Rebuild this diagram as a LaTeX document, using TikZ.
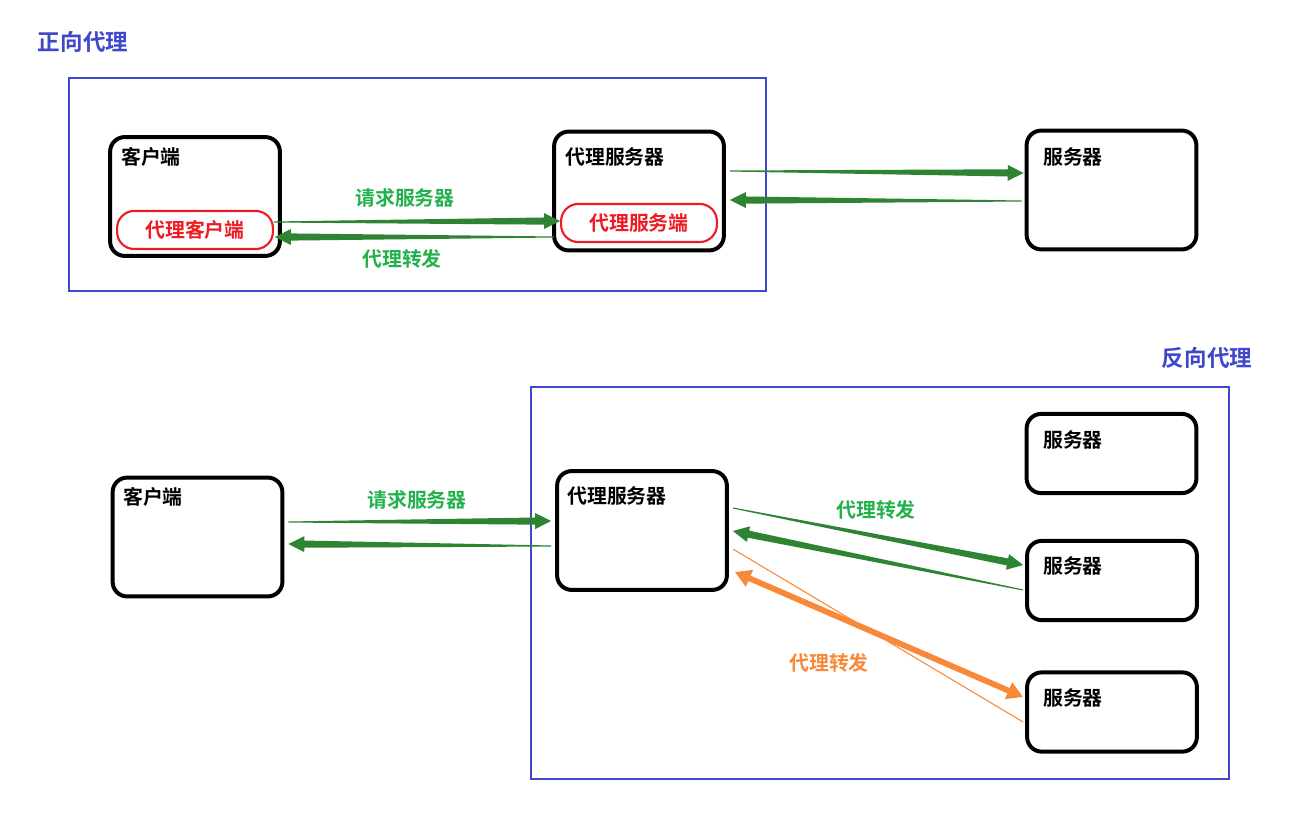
\documentclass[tikz,border=0pt]{standalone}
\usepackage{fontspec}
\usetikzlibrary{calc}
\usetikzlibrary{arrows.meta}
\newfontfamily\cjk{Noto Sans CJK SC}[BoldFont={Noto Sans CJK SC Bold}]
\definecolor{frameblue}{RGB}{63, 72, 204}
\definecolor{labelgreen}{RGB}{34, 177, 76}
\definecolor{arrowgreen}{RGB}{46, 132, 50}
\definecolor{proxyred}{RGB}{237, 28, 36}
\definecolor{fwdorange}{RGB}{247, 137, 56}
% tapered arrow: thin at the tail, thick at the head
\newcommand{\taperarrow}[3]{%
	\coordinate (tb) at ($(#3)!12pt!(#2)$);
	\fill[#1] ($(#2)!0.4pt!90:(#3)$) -- ($(tb)!2.7pt!90:(#3)$) -- ($(tb)!6pt!90:(#3)$)
		-- (#3) -- ($(tb)!6pt!-90:(#3)$) -- ($(tb)!2.7pt!-90:(#3)$) -- ($(#2)!0.4pt!-90:(#3)$) -- cycle;
}

\begin{document}
\begin{tikzpicture}[x=0.0265cm, y=-0.0265cm,
	box/.style={draw, line width=3pt, rounded corners=11pt, minimum width=4.5cm, minimum height=3.15cm},
	smallbox/.style={box, minimum height=2.1cm},
	inbox/.style={draw=proxyred, line width=1.6pt, rounded corners=13pt, minimum width=4.13cm, minimum height=1.01cm, text=proxyred, font=\cjk\bfseries\fontsize{15}{18}\selectfont},
	txt/.style={inner sep=0pt, font=\cjk\bfseries\fontsize{15}{18}\selectfont},
	title/.style={inner sep=0pt, text=frameblue, font=\cjk\bfseries\fontsize{17}{20}\selectfont},
	frame/.style={draw=frameblue, line width=2.2pt}]
	\useasboundingbox (0, 0) rectangle (1293, 814);

	% forward proxy
	\node[title] (fwdtitle) at (83, 42) {正向代理};
	\draw[frame] (69, 78) rectangle (766, 291);

	\node[box] (c1) at (195, 196.5) {};
	\node[txt] (c1t) at (151, 157) {客户端};
	\node[inbox] (c1in) at (195, 230) {代理客户端};

	\node[box] (p1) at (639, 191) {};
	\node[txt] (p1t) at (615, 157) {代理服务器};
	\node[inbox] (p1in) at (639, 223) {代理服务端};

	\node[box] (s1) at (1111.5, 190) {};
	\node[txt] (s1t) at (1073, 157) {服务器};

	\coordinate (a1s) at ($(c1in.east)+(0, -8)$);
	\coordinate (a1e) at ($(p1in.west)+(0, -2)$);
	\coordinate (a2s) at ($(p1.west)+(2, 46)$);
	\coordinate (a2e) at ($(c1in.east)+(1, 7)$);
	\coordinate (a3s) at ($(p1.east)+(4, -20)$);
	\coordinate (a3e) at ($(s1.west)+(-1, -17)$);
	\coordinate (a4s) at ($(s1.west)+(-3, 11)$);
	\coordinate (a4e) at ($(p1.east)+(4, 9)$);
	\taperarrow{arrowgreen}{a1s}{a1e}
	\taperarrow{arrowgreen}{a2s}{a2e}
	\taperarrow{arrowgreen}{a3s}{a3e}
	\taperarrow{arrowgreen}{a4s}{a4e}
	\node[txt, text=labelgreen] (req1) at (405, 198) {请求服务器};
	\node[txt, text=labelgreen] (fwd1) at (402, 259) {代理转发};

	% reverse proxy
	\node[title] (revtitle) at (1207, 358) {反向代理};
	\draw[frame] (531, 387) rectangle (1229, 779);

	\node[box] (c2) at (197.5, 537) {};
	\node[txt] (c2t) at (153, 497) {客户端};

	\node[box] (p2) at (642, 530.5) {};
	\node[txt] (p2t) at (617, 496) {代理服务器};

	\node[smallbox] (s2a) at (1111.5, 453.5) {};
	\node[txt] (s2at) at (1073, 440) {服务器};
	\node[smallbox] (s2b) at (1112, 580.5) {};
	\node[txt] (s2bt) at (1073, 566) {服务器};
	\node[smallbox] (s2c) at (1112, 712) {};
	\node[txt] (s2ct) at (1073, 698) {服务器};

	\coordinate (b1s) at ($(c2.east)+(4, -15)$);
	\coordinate (b1e) at ($(p2.west)+(-4, -9.5)$);
	\coordinate (b2s) at ($(p2.west)+(-4, 15.5)$);
	\coordinate (b2e) at ($(c2.east)+(4, 7)$);
	\coordinate (b3s) at ($(p2.east)+(4, -22.5)$);
	\coordinate (b3e) at ($(s2b.west)+(-2, -15.5)$);
	\coordinate (b4s) at ($(s2b.west)+(-2, 9.5)$);
	\coordinate (b4e) at ($(p2.east)+(4, 0.5)$);
	\taperarrow{arrowgreen}{b1s}{b1e}
	\taperarrow{arrowgreen}{b2s}{b2e}
	\taperarrow{arrowgreen}{b3s}{b3e}
	\taperarrow{arrowgreen}{b4s}{b4e}
	\node[txt, text=labelgreen] (req2) at (417, 500) {请求服务器};
	\node[txt, text=labelgreen] (fwd2) at (876, 510) {代理转发};

	\coordinate (b5s) at ($(p2.east)+(6, 41.5)$);
	\coordinate (b5e) at ($(s2c.west)+(-2, -15)$);
	\coordinate (b6s) at ($(p2.east)+(4, 18.5)$);
	\coordinate (b6e) at ($(s2c.west)+(-2, 10)$);
	\draw[fwdorange, line width=4.4pt, {Triangle[length=12pt, width=13pt]}-{Triangle[length=12pt, width=13pt]}] (b5s) -- (b5e);
	\draw[fwdorange, line width=0.8pt] (b6s) -- (b6e);
	\node[txt, text=fwdorange] (fwd3) at (829, 663) {代理转发};
\end{tikzpicture}
\end{document}
